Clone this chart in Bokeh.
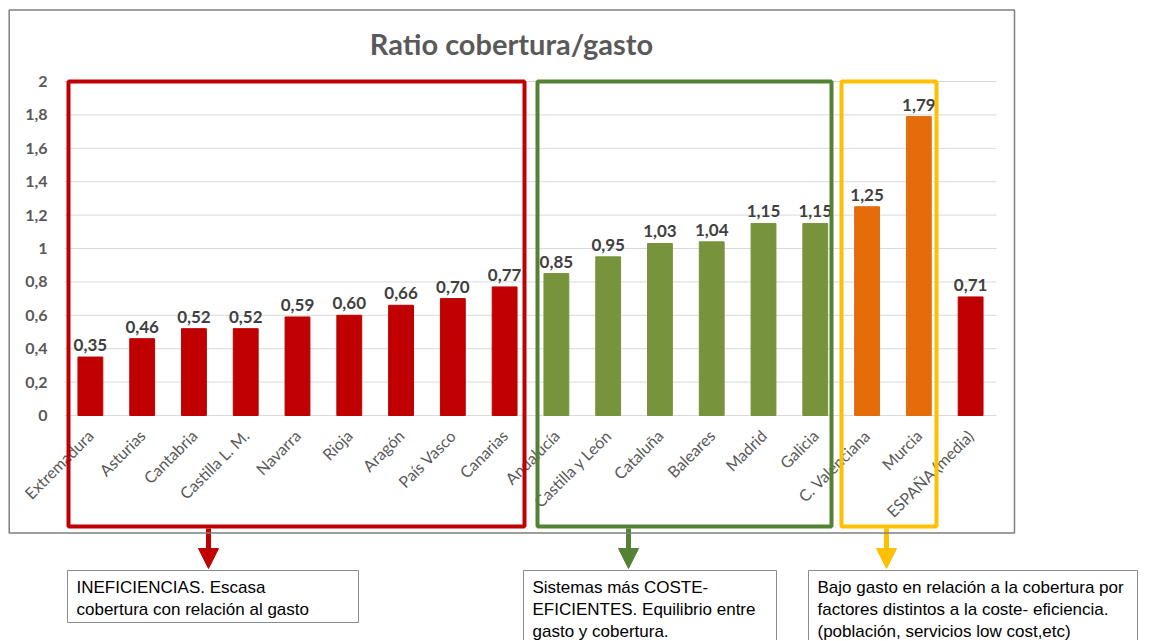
import math
from bokeh.plotting import figure
from bokeh.models import (ColumnDataSource, Range1d, FixedTicker, LinearAxis,
                          BoxAnnotation, Label, LabelSet, Arrow, NormalHead)
from bokeh.core.properties import value
from bokeh.embed import file_html
from bokeh.resources import INLINE

# ---------------- data ----------------
categories = ["Extremadura", "Asturias", "Cantabria", "Castilla L. M.", "Navarra",
              "Rioja", "Aragón", "País Vasco", "Canarias", "Andalucía",
              "Castilla y León", "Cataluña", "Baleares", "Madrid", "Galicia",
              "C. Valenciana", "Murcia", "ESPAÑA (media)"]
ratios = [0.35, 0.46, 0.52, 0.52, 0.59, 0.60, 0.66, 0.70, 0.77, 0.85,
          0.95, 1.03, 1.04, 1.15, 1.15, 1.25, 1.79, 0.71]
groups = ["ineficiente"] * 9 + ["eficiente"] * 6 + ["bajo_gasto"] * 2 + ["media"]
y_ticks = [0, 0.2, 0.4, 0.6, 0.8, 1.0, 1.2, 1.4, 1.6, 1.8, 2.0]
y_tick_labels = ["0", "0,2", "0,4", "0,6", "0,8", "1", "1,2", "1,4", "1,6", "1,8", "2"]
title_text = "Ratio cobertura/gasto"
note_red = ["INEFICIENCIAS. Escasa", "cobertura con relación al gasto"]
note_green = ["Sistemas más COSTE-", "EFICIENTES. Equilibrio entre", "gasto y cobertura."]
note_yellow = ["Bajo gasto en relación a la cobertura por",
               "factores distintos a la coste- eficiencia.",
               "(población, servicios low cost,etc)"]

group_colors = {"ineficiente": "#C00000", "eficiente": "#77933C",
                "bajo_gasto": "#E46C0A", "media": "#C00000"}

# ---------------- layout constants (canvas px) ----------------
W, H = 1150, 640
FL, FR, FT, FB = 64, 996, 81, 415          # plot area of the bar chart
STEP = (FR - FL) / len(categories)          # px per category
YS = (FB - FT) / 2.0                        # px per unit of ratio
X0 = FL + STEP / 2                          # canvas x of first category


def X(px):
    return (px - X0) / STEP


def Y(py):
    return (FB - py) / YS


idx = list(range(len(categories)))
src = ColumnDataSource(dict(
    idx=idx,
    ratio=ratios,
    color=[group_colors[g] for g in groups],
    label=[f"{v:.2f}".replace(".", ",") for v in ratios],
))

p = figure(x_range=Range1d(X(0), X(W)), y_range=Range1d(Y(H), Y(0)),
           width=W, height=H, output_backend="svg", toolbar_location=None,
           x_axis_type=None, y_axis_type=None,
           min_border=0, min_border_left=0, min_border_right=0,
           min_border_top=0, min_border_bottom=0)
p.outline_line_color = None
p.background_fill_color = "white"
p.border_fill_color = "white"
p.xgrid.grid_line_color = None
p.ygrid.grid_line_color = None

# gridlines across the plot area only
p.segment(x0=-0.5, x1=len(categories) - 0.5, y0=y_ticks, y1=y_ticks,
          line_color="#D9D9D9", line_width=1)

p.vbar(x="idx", top="ratio", width=0.48, color="color", source=src)

p.add_layout(LabelSet(x="idx", y="ratio", text="label", source=src, y_offset=6,
                      text_align="center", text_baseline="bottom",
                      text_font=value("Lato"), text_font_style="bold",
                      text_font_size="17px", text_color="#404040"))

# axes drawn at fixed locations inside the canvas
yaxis = LinearAxis(ticker=FixedTicker(ticks=y_ticks), fixed_location=-0.5)
yaxis.major_label_overrides = dict(zip(y_ticks, y_tick_labels))
yaxis.axis_line_color = None
yaxis.major_tick_line_color = None
yaxis.minor_tick_line_color = None
yaxis.major_tick_out = 0
yaxis.major_tick_in = 0
yaxis.major_label_text_font = "Lato"
yaxis.major_label_text_font_style = "bold"
yaxis.major_label_text_font_size = "16px"
yaxis.major_label_text_color = "#595959"
yaxis.major_label_standoff = 17
p.add_layout(yaxis, "left")

xaxis = LinearAxis(ticker=FixedTicker(ticks=idx), fixed_location=0)
xaxis.major_label_overrides = dict(zip(idx, categories))
xaxis.axis_line_color = None
xaxis.major_tick_line_color = None
xaxis.minor_tick_line_color = None
xaxis.major_tick_out = 0
xaxis.major_tick_in = 0
xaxis.major_label_orientation = math.pi / 4
xaxis.major_label_text_font = "Lato"
xaxis.major_label_text_font_size = "16px"
xaxis.major_label_text_color = "#595959"
xaxis.major_label_standoff = 17
p.add_layout(xaxis, "below")

# title
p.add_layout(Label(x=X(511), y=Y(43), text=title_text, text_align="center",
                   text_baseline="middle", text_font="Lato", text_font_style="bold",
                   text_font_size="29px", text_color="#595959"))

# outer chart frame
p.add_layout(BoxAnnotation(left=X(8.7), right=X(1014), top=Y(9.5), bottom=Y(532.5),
                           fill_color=None, line_color="#7F7F7F", line_alpha=1,
                           line_width=1.5, level="overlay"))

# group boxes
boxes = [
    (68, 524, "#C00000"),
    (537, 831, "#548235"),
    (841, 936, "#FFC000"),
]
for l, r, c in boxes:
    p.add_layout(BoxAnnotation(left=X(l), right=X(r), top=Y(81), bottom=Y(526),
                               fill_color=None, line_color=c, line_alpha=1,
                               line_width=4, level="overlay"))

# arrows
for ax, c in [(208, "#C00000"), (628, "#548235"), (886, "#FFC000")]:
    p.add_layout(Arrow(x_start=X(ax), y_start=Y(528), x_end=X(ax), y_end=Y(568),
                       line_color=c, line_width=5,
                       end=NormalHead(size=20, fill_color=c, line_color=c)))

# note boxes
notes = [
    (67, 358, 622, note_red),
    (523, 776, 700, note_green),
    (808, 1137, 700, note_yellow),
]
for l, r, b, lines in notes:
    p.add_layout(BoxAnnotation(left=X(l), right=X(r), top=Y(570), bottom=Y(b),
                               fill_color="white", fill_alpha=1,
                               line_color="#8C8C8C", line_alpha=1, line_width=1,
                               level="overlay"))
    for i, t in enumerate(lines):
        p.add_layout(Label(x=X(l + 9), y=Y(587 + 22 * i), text=t,
                           text_align="left", text_baseline="middle",
                           text_font="Liberation Sans", text_font_size="17px",
                           text_color="#000000", level="overlay"))

open("out.html", "w").write(file_html(p, INLINE))
